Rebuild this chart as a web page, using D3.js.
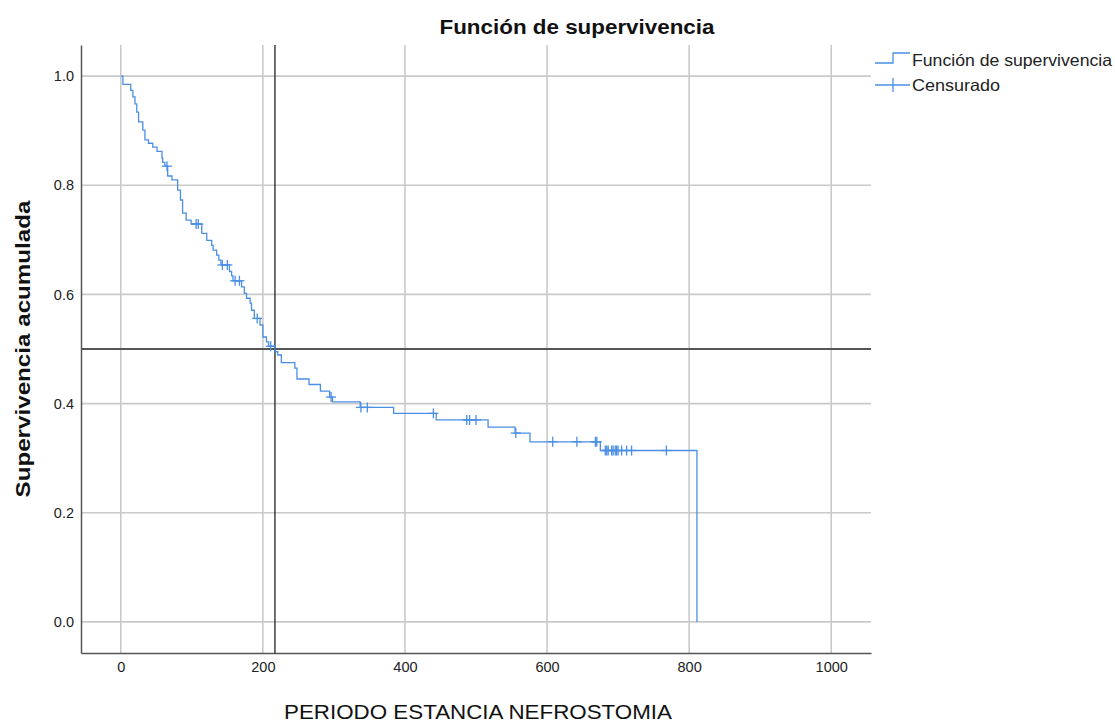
<!DOCTYPE html>
<html>
<head>
<meta charset="utf-8">
<script src="https://cdn.jsdelivr.net/npm/d3@7"></script>
<style>
body { margin: 0; background: white; }
text { font-family: "Liberation Sans", Arial, sans-serif; }
</style>
</head>
<body>
<div id="chart"></div>
<script>
// eventos (tiempo, supervivencia tras el evento)
var eventTimes = [0, 3, 14, 17, 20, 22.5, 25, 31, 34, 39, 45, 51, 58, 59, 62, 66, 72, 80, 84, 87, 92, 99,
	114, 121, 128, 130, 135, 138, 141, 153, 156, 158, 170, 174, 177, 182, 184, 188, 196, 200, 205, 208,
	217, 221, 226, 245, 248, 265, 281, 294, 298, 337, 384, 444, 517, 555, 576, 675, 811];
var eventSurv = [1.0, 0.985, 0.974, 0.962, 0.949, 0.934, 0.916, 0.901, 0.883, 0.877, 0.870, 0.862, 0.850, 0.842, 0.835, 0.817, 0.810, 0.791, 0.773, 0.749, 0.736, 0.729,
	0.712, 0.699, 0.690, 0.681, 0.672, 0.663, 0.654, 0.642, 0.634, 0.625, 0.614, 0.602, 0.593, 0.584, 0.571, 0.556, 0.544, 0.522, 0.513, 0.505,
	0.495, 0.489, 0.475, 0.465, 0.445, 0.435, 0.423, 0.412, 0.403, 0.393, 0.382, 0.370, 0.357, 0.346, 0.330, 0.314, 0.0];
var censorTimes = [65, 106, 109, 143, 150, 161, 167, 192, 211, 296, 338, 347, 440, 487, 491, 500, 556,
	608, 642, 668, 670, 682, 684, 686, 691, 693, 696, 698, 700, 705, 712, 719, 768];

var xTicks = [0, 200, 400, 600, 800, 1000];
var yTicks = [0.0, 0.2, 0.4, 0.6, 0.8, 1.0];
var medianTime = 217;
var medianSurv = 0.5;

var W = 1115, H = 723;
var L = 81, R = 871, T = 45, B = 653;
var blue = "#4a8fe3";

var svg = d3.select("#chart").append("svg").attr("width", W).attr("height", H);

var x = d3.scaleLinear().domain([-56, 1056]).range([L, R]);
var y = d3.scaleLinear().domain([-0.057, 1.057]).range([B, T]);

// rejilla
svg.selectAll("line.vgrid").data(xTicks).enter().append("line")
	.attr("class", "vgrid")
	.attr("x1", function (d) { return x(d); }).attr("x2", function (d) { return x(d); })
	.attr("y1", T).attr("y2", B)
	.attr("stroke", "#cacaca").attr("stroke-width", 1.6);
svg.selectAll("line.hgrid").data(yTicks).enter().append("line")
	.attr("class", "hgrid")
	.attr("x1", L).attr("x2", R)
	.attr("y1", function (d) { return y(d); }).attr("y2", function (d) { return y(d); })
	.attr("stroke", "#cacaca").attr("stroke-width", 1.6);

// ejes
var xAxis = d3.axisBottom(x).tickValues(xTicks).tickSize(0).tickPadding(9).tickFormat(d3.format("d"));
var yAxis = d3.axisLeft(y).tickValues(yTicks).tickSize(0).tickPadding(7).tickFormat(d3.format(".1f"));
var gx = svg.append("g").attr("transform", "translate(0," + B + ")").call(xAxis);
var gy = svg.append("g").attr("transform", "translate(" + L + ",0)").call(yAxis);
[gx, gy].forEach(function (g) {
	g.select(".domain").attr("stroke", "#555").attr("stroke-width", 1.5);
	g.selectAll("text").attr("font-size", 14.5).attr("fill", "#222")
		.style("font-family", "'Liberation Sans', Arial, sans-serif");
});

// lineas de referencia
svg.append("line").attr("x1", L).attr("x2", R)
	.attr("y1", y(medianSurv)).attr("y2", y(medianSurv))
	.attr("stroke", "#555").attr("stroke-width", 2);
svg.append("line").attr("x1", x(medianTime)).attr("x2", x(medianTime))
	.attr("y1", T).attr("y2", B)
	.attr("stroke", "#222").attr("stroke-width", 1.3);

// curva
var pts = eventTimes.map(function (t, i) { return [t, eventSurv[i]]; });
var line = d3.line().x(function (d) { return x(d[0]); }).y(function (d) { return y(d[1]); })
	.curve(d3.curveStepAfter);
svg.append("path").datum(pts).attr("d", line)
	.attr("fill", "none").attr("stroke", blue).attr("stroke-width", 1.3);

function survAt (t) {
	var s = 1;
	for (var i = 0; i < eventTimes.length; i++) if (eventTimes[i] <= t) s = eventSurv[i];
	return s;
}
var cs = 5;
var cens = svg.selectAll("g.cens").data(censorTimes).enter().append("g")
	.attr("class", "cens")
	.attr("transform", function (d) { return "translate(" + x(d) + "," + y(survAt(d)) + ")"; });
cens.append("line").attr("x1", -cs).attr("x2", cs).attr("y1", 0).attr("y2", 0)
	.attr("stroke", blue).attr("stroke-width", 1.3);
cens.append("line").attr("x1", 0).attr("x2", 0).attr("y1", -cs).attr("y2", cs)
	.attr("stroke", blue).attr("stroke-width", 1.3);

// titulos
svg.append("text").attr("x", 577).attr("y", 34).attr("text-anchor", "middle")
	.attr("font-size", 20).attr("font-weight", "bold").attr("fill", "#111")
	.attr("textLength", 275).attr("lengthAdjust", "spacingAndGlyphs")
	.text("Función de supervivencia");
svg.append("text").attr("x", 478).attr("y", 719).attr("text-anchor", "middle")
	.attr("font-size", 21).attr("fill", "#111")
	.attr("textLength", 388).attr("lengthAdjust", "spacingAndGlyphs")
	.text("PERIODO ESTANCIA NEFROSTOMIA");
svg.append("text").attr("transform", "translate(30,349) rotate(-90)").attr("text-anchor", "middle")
	.attr("font-size", 21).attr("font-weight", "bold").attr("fill", "#111")
	.attr("textLength", 297).attr("lengthAdjust", "spacingAndGlyphs")
	.text("Supervivencia acumulada");

// leyenda
var lg = svg.append("g").attr("transform", "translate(875,0)");
lg.append("path").attr("d", "M0,63 H18 V53 H35")
	.attr("fill", "none").attr("stroke", blue).attr("stroke-width", 1.3);
lg.append("line").attr("x1", 0).attr("x2", 35).attr("y1", 85).attr("y2", 85)
	.attr("stroke", blue).attr("stroke-width", 1.3);
lg.append("line").attr("x1", 18).attr("x2", 18).attr("y1", 78).attr("y2", 92)
	.attr("stroke", blue).attr("stroke-width", 1.3);
lg.append("text").attr("x", 37).attr("y", 66).attr("font-size", 16.5).attr("fill", "#222")
	.attr("textLength", 200).attr("lengthAdjust", "spacingAndGlyphs")
	.text("Función de supervivencia");
lg.append("text").attr("x", 37).attr("y", 91).attr("font-size", 16.5).attr("fill", "#222")
	.attr("textLength", 88).attr("lengthAdjust", "spacingAndGlyphs")
	.text("Censurado");
</script>
</body>
</html>
